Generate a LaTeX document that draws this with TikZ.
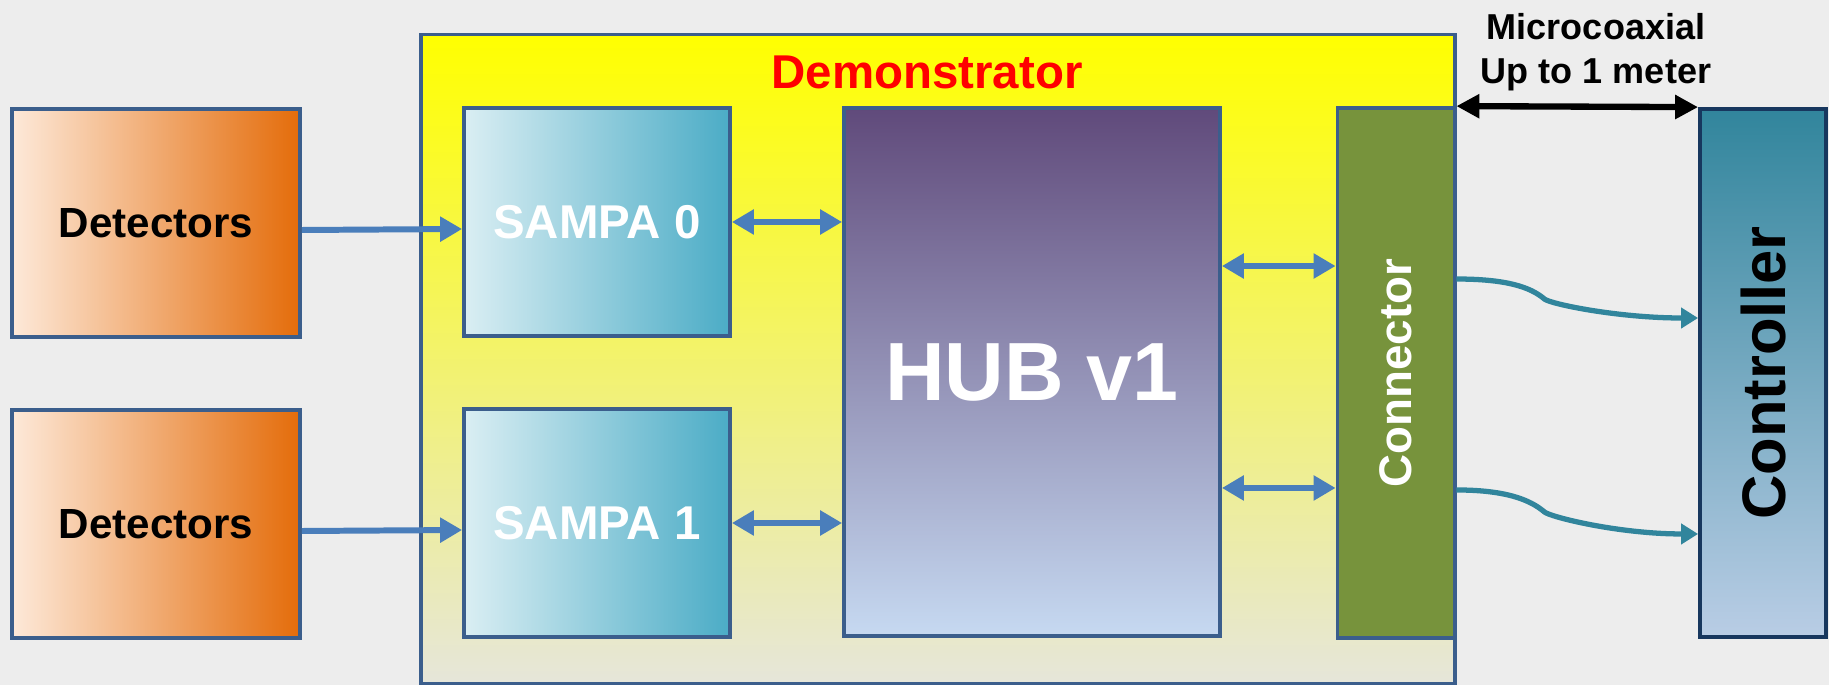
\documentclass[tikz,border=0pt]{standalone}
\usepackage{fontspec}
\setmainfont{Liberation Sans}
\setsansfont{Liberation Sans}
\usetikzlibrary{arrows.meta,positioning}

\definecolor{bgray}{RGB}{237,237,237}
\definecolor{bordblue}{RGB}{59,94,140}
\definecolor{detlight}{RGB}{253,233,217}
\definecolor{detdark}{RGB}{228,108,10}
\definecolor{sampalight}{RGB}{218,238,243}
\definecolor{sampadark}{RGB}{75,172,198}
\definecolor{hubtop}{RGB}{96,74,123}
\definecolor{hubmid}{RGB}{146,152,192}
\definecolor{hubbot}{RGB}{198,217,241}
\definecolor{demomid}{RGB}{238,234,96}
\definecolor{demobot}{RGB}{230,230,218}
\definecolor{conngreen}{RGB}{119,147,60}
\definecolor{ctrltop}{RGB}{49,133,156}
\definecolor{ctrlmid}{RGB}{122,170,200}
\definecolor{ctrlbot}{RGB}{185,205,229}
\definecolor{ctrlnavy}{RGB}{23,55,94}
\definecolor{arrblue}{RGB}{74,126,187}
\definecolor{cableteal}{RGB}{49,133,156}

\tikzset{
  blk/.style={draw=bordblue, line width=2.2pt, inner sep=0pt},
  detbox/.style={blk, minimum width=5.76cm, minimum height=4.57cm,
    left color=detlight, right color=detdark,
    font=\bfseries\fontsize{24}{29}\selectfont},
  sampabox/.style={blk, minimum width=5.32cm, minimum height=4.57cm,
    left color=sampalight, right color=sampadark, text=white,
    font=\bfseries\fontsize{27}{32}\selectfont},
  flow/.style={draw=arrblue, line width=3.4pt,
    -{Triangle[length=0.44cm,width=0.48cm]}},
  duplex/.style={flow, {Triangle[length=0.44cm,width=0.48cm]}-{Triangle[length=0.44cm,width=0.48cm]}},
  cable/.style={draw=cableteal, line width=3pt,
    -{Triangle[length=0.34cm,width=0.4cm]}},
}

\begin{document}
\begin{tikzpicture}[x=0.02cm,y=-0.02cm]
	\useasboundingbox (0,0) rectangle (1829,685);
	\fill [bgray] (0,0) rectangle (1829,685);
	% demonstrator board
	\node [blk, minimum width=20.68cm, minimum height=12.98cm,
		top color=yellow, middle color=demomid, bottom color=demobot] (demo) at (938,359) {};
	\node [text=red, font=\bfseries\fontsize{27}{32}\selectfont] (demolbl) at (927,72) {Demonstrator};
	% detectors and front-end chips
	\node [detbox] (det0) at (156,223) {Detectors};
	\node [detbox] (det1) at (156,524) {Detectors};
	\node [sampabox] (sampa0) at (597,222) {SAMPA 0};
	\node [sampabox] (sampa1) at (597,523) {SAMPA 1};
	\node [blk, minimum width=7.52cm, minimum height=10.55cm, top color=hubtop,
		middle color=hubmid, bottom color=hubbot, text=white,
		font=\bfseries\fontsize{47}{56}\selectfont] (hub) at (1032,372) {HUB v1};
	\node [blk, fill=conngreen, minimum width=2.34cm, minimum height=10.6cm] (conn) at (1396,373) {};
	\node [rotate=90, text=white, font=\bfseries\fontsize{26}{31}\selectfont] (connlbl) at (conn.center) {Connector};
	\node [draw=ctrlnavy, line width=2.2pt, inner sep=0pt, minimum width=2.52cm, minimum height=10.56cm,
		top color=ctrltop, middle color=ctrlmid, bottom color=ctrlbot] (ctrl) at (1763,373) {};
	\node [rotate=90, font=\bfseries\fontsize{35}{42}\selectfont] (ctrllbl) at (ctrl.center) {Controller};
	\node [align=center, font=\bfseries\fontsize{20.5}{25}\selectfont] (micro) at (1596,52) {Microcoaxial\\Up to 1 meter};
	% links
	\draw [flow] ([yshift=-0.14cm]det0.east) -- ([yshift=-0.14cm]sampa0.west);
	\draw [flow] ([yshift=-0.14cm]det1.east) -- ([yshift=-0.14cm]sampa1.west);
	\draw [duplex] (sampa0.east) -- (sampa0.east -| hub.west);
	\draw [duplex] (sampa1.east) -- (sampa1.east -| hub.west);
	\draw [duplex] ([yshift=2.12cm]hub.east) -- ([yshift=2.12cm]hub.east -| conn.west);
	\draw [duplex] ([yshift=-2.32cm]hub.east) -- ([yshift=-2.32cm]hub.east -| conn.west);
	\draw [line width=3.6pt, {Triangle[length=0.46cm,width=0.46cm]}-{Triangle[length=0.46cm,width=0.46cm]}] (conn.north east) -- (ctrl.north west);
	\draw [cable] ([yshift=1.88cm]conn.east) .. controls +(50,0) and +(-14,-12) .. +(88,20)
		.. controls +(6,5) and +(-80,0) .. ([yshift=1.1cm]ctrl.west);
	\draw [cable] ([yshift=-2.34cm]conn.east) .. controls +(50,0) and +(-14,-12) .. +(88,22)
		.. controls +(6,5) and +(-80,0) .. ([yshift=-3.22cm]ctrl.west);
\end{tikzpicture}
\end{document}
